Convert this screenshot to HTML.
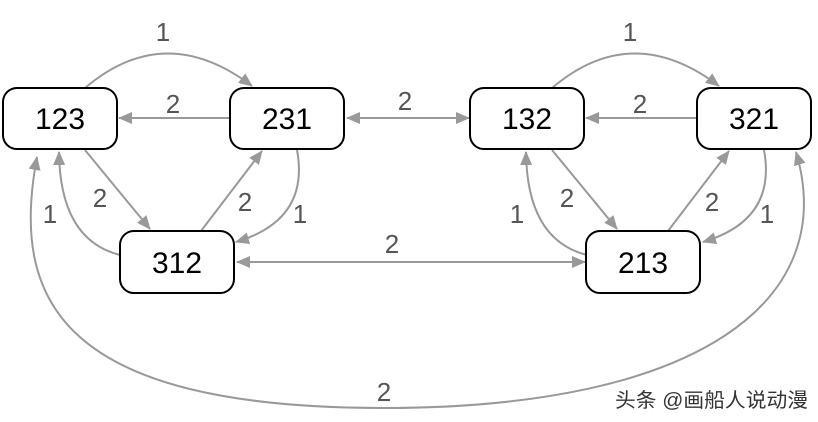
<!DOCTYPE html>
<html><head><meta charset="utf-8"><style>
body{margin:0;background:#fff;width:818px;height:422px;overflow:hidden}
svg{display:block}
.n{fill:#fff;stroke:#000;stroke-width:2}
.t{font-family:"Liberation Sans",sans-serif;font-size:30px;fill:#000;text-anchor:middle}
.l{font-family:"Liberation Sans",sans-serif;font-size:26px;fill:#555;text-anchor:middle}
.e{fill:none;stroke:#999;stroke-width:2}
</style></head><body>
<svg width="818" height="422" viewBox="0 0 818 422">
<defs><marker id="a" markerWidth="14" markerHeight="12" refX="13" refY="6" orient="auto" markerUnits="userSpaceOnUse" viewBox="0 0 14 12"><path d="M0,0 L14,6 L0,12 z" fill="#999"/></marker>
<marker id="s" markerWidth="14" markerHeight="12" refX="1" refY="6" orient="auto" markerUnits="userSpaceOnUse" viewBox="0 0 14 12"><path d="M14,0 L0,6 L14,12 z" fill="#999"/></marker></defs>
<g id="L">
<path class="e" d="M85,88 Q165,20 252,86" marker-end="url(#a)"/>
<path class="e" d="M230,118 L119,118" marker-end="url(#a)"/>
<path class="e" d="M85,150 L150,229" marker-end="url(#a)"/>
<path class="e" d="M120,255 Q60,240 59,152" marker-end="url(#a)"/>
<path class="e" d="M201,231 L262,151" marker-end="url(#a)"/>
<path class="e" d="M297,150 Q310,220 236,242" marker-end="url(#a)"/>
<text class="l" x="163" y="41">1</text>
<text class="l" x="173" y="113">2</text>
<text class="l" x="100" y="207">2</text>
<text class="l" x="50" y="223">1</text>
<text class="l" x="245" y="211">2</text>
<text class="l" x="300" y="223">1</text>
</g>
<use href="#L" x="467"/>
<path class="e" d="M347,118 L469,118" marker-start="url(#s)" marker-end="url(#a)"/>
<path class="e" d="M237,262 L585,262" marker-start="url(#s)" marker-end="url(#a)"/>
<path class="e" d="M37,157 C10,300 60,408 384,408 C700,408 840,300 796,152" marker-start="url(#s)" marker-end="url(#a)"/>
<text class="l" x="405" y="110">2</text>
<text class="l" x="392" y="253">2</text>
<text class="l" x="384" y="401">2</text>
<rect class="n" x="3" y="88" width="114" height="61" rx="14"/><text class="t" x="60" y="129">123</text>
<rect class="n" x="230" y="88" width="114" height="61" rx="14"/><text class="t" x="287" y="129">231</text>
<rect class="n" x="120" y="231" width="114" height="62" rx="14"/><text class="t" x="177" y="273">312</text>
<rect class="n" x="470" y="88" width="114" height="61" rx="14"/><text class="t" x="527" y="129">132</text>
<rect class="n" x="697" y="88" width="114" height="61" rx="14"/><text class="t" x="754" y="129">321</text>
<rect class="n" x="586" y="231" width="114" height="62" rx="14"/><text class="t" x="643" y="273">213</text>
<text x="615" y="407" textLength="193" lengthAdjust="spacingAndGlyphs" style="font-family:'Liberation Sans','Noto Sans CJK SC',sans-serif;font-size:20px;fill:#333">头条 @画船人说动漫</text>
</svg>
</body></html>
